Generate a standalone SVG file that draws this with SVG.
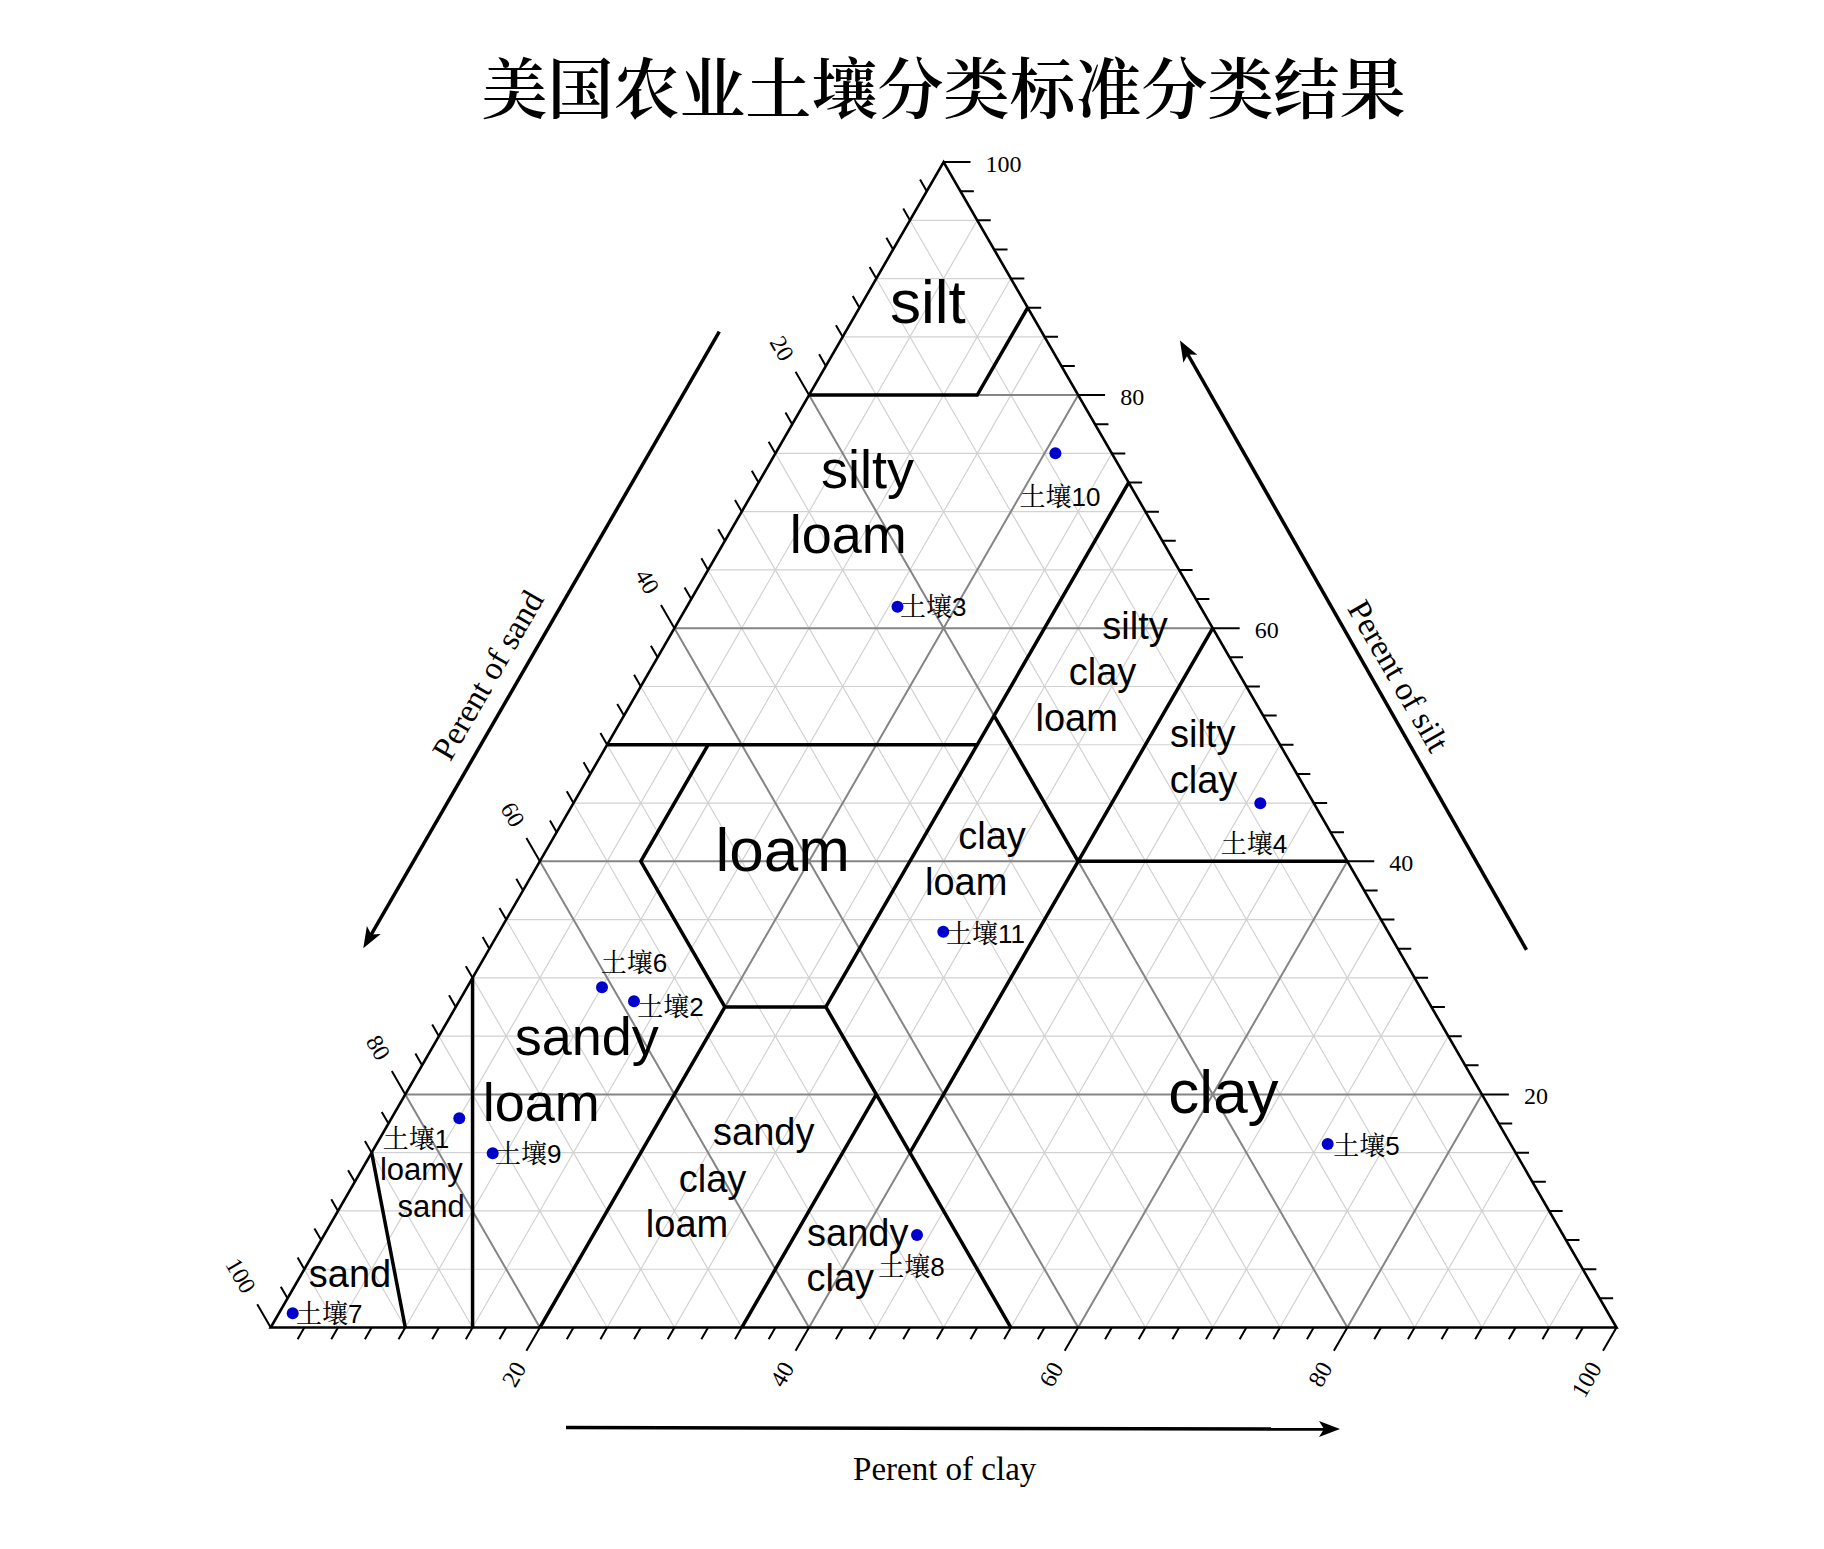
<svg xmlns="http://www.w3.org/2000/svg" width="1824" height="1549" viewBox="0 0 1824 1549">
<defs>
<style>
.gl{fill:none;stroke:#d2d2d2;stroke-width:1.2;vector-effect:non-scaling-stroke}
.gd{fill:none;stroke:#858585;stroke-width:2;vector-effect:non-scaling-stroke}
.bd{fill:none;stroke:#000;stroke-width:3.5;stroke-linejoin:miter;vector-effect:non-scaling-stroke}
.fr{fill:none;stroke:#000;stroke-width:2.6;stroke-linejoin:miter;vector-effect:non-scaling-stroke}
.tk{fill:none;stroke:#000;stroke-width:2;vector-effect:non-scaling-stroke}
.cls{font-family:"Liberation Sans",Arial,sans-serif;text-anchor:middle;fill:#000}
.ax{font-family:"Liberation Serif","Times New Roman",serif;font-size:24px;fill:#000}
.at{font-family:"Liberation Serif","Times New Roman",serif;font-size:33px;fill:#000;text-anchor:middle}
.pt{fill:#0000CD}
.pl{font-family:"Liberation Sans","Noto Serif CJK SC","Noto Sans CJK SC",sans-serif;font-size:26px;fill:#000}
.arr{fill:none;stroke:#000;stroke-width:3.5}
.title{font-family:"Noto Serif CJK SC","Noto Sans CJK SC",serif;font-size:66px;font-weight:600;fill:#000;text-anchor:middle}
</style>
<marker id="ah" markerUnits="userSpaceOnUse" markerWidth="30" markerHeight="30" viewBox="-15 -15 30 30" refX="0" refY="0" orient="auto">
<path d="M12,0 L-9,-8 L-4,0 L-9,8 Z" fill="#000"/>
</marker>
</defs>
<rect width="1824" height="1549" fill="#fff"/>

<text id="title" class="title" x="943.6" y="113">美国农业土壤分类标准分类结果</text>

<g id="triangle" transform="matrix(13.458 0 6.729 -11.655 270.7 1327.5)">
<path id="grid-light" class="gl" d="M0,5L95,5M5,0L5,95M95,0L0,95 M0,10L90,10M10,0L10,90M90,0L0,90 M0,15L85,15M15,0L15,85M85,0L0,85 M0,25L75,25M25,0L25,75M75,0L0,75 M0,30L70,30M30,0L30,70M70,0L0,70 M0,35L65,35M35,0L35,65M65,0L0,65 M0,45L55,45M45,0L45,55M55,0L0,55 M0,50L50,50M50,0L50,50M50,0L0,50 M0,55L45,55M55,0L55,45M45,0L0,45 M0,65L35,65M65,0L65,35M35,0L0,35 M0,70L30,70M70,0L70,30M30,0L0,30 M0,75L25,75M75,0L75,25M25,0L0,25 M0,85L15,85M85,0L85,15M15,0L0,15 M0,90L10,90M90,0L90,10M10,0L0,10 M0,95L5,95M95,0L95,5M5,0L0,5"/>
<path id="grid-dark" class="gd" d="M0,20L80,20M20,0L20,80M80,0L0,80 M0,40L60,40M40,0L40,60M60,0L0,60 M0,60L40,60M60,0L60,40M40,0L0,40 M0,80L20,80M80,0L80,20M20,0L0,20"/>
<g id="connectors">
<path class="bd" d="M0,80L12.5,80L12.5,87.5 M0,50L27.5,50 M27.5,72.5L27.5,27.5 M7.5,50L7.5,40L20,27.5L27.5,27.5 M20,0L20,27.5 M27.5,27.5L55,0 M35,0L35,20 M27.5,52.5L40,40 M40,60L40,15 M40,40L60,40 M0,30L15,0 M0,15L10,0"/>
</g>
<path id="frame" class="fr" d="M0,0L100,0L0,100Z"/>
<path id="ticks-silt" class="tk" d="M97.5,2.5h1M95,5h1M92.5,7.5h1M90,10h1M87.5,12.5h1M85,15h1M82.5,17.5h1M80,20h2M77.5,22.5h1M75,25h1M72.5,27.5h1M70,30h1M67.5,32.5h1M65,35h1M62.5,37.5h1M60,40h2M57.5,42.5h1M55,45h1M52.5,47.5h1M50,50h1M47.5,52.5h1M45,55h1M42.5,57.5h1M40,60h2M37.5,62.5h1M35,65h1M32.5,67.5h1M30,70h1M27.5,72.5h1M25,75h1M22.5,77.5h1M20,80h2M17.5,82.5h1M15,85h1M12.5,87.5h1M10,90h1M7.5,92.5h1M5,95h1M2.5,97.5h1M0,100h2"/>
<path id="ticks-clay" class="tk" d="M2.5,0v-1M5,0v-1M7.5,0v-1M10,0v-1M12.5,0v-1M15,0v-1M17.5,0v-1M20,0v-2M22.5,0v-1M25,0v-1M27.5,0v-1M30,0v-1M32.5,0v-1M35,0v-1M37.5,0v-1M40,0v-2M42.5,0v-1M45,0v-1M47.5,0v-1M50,0v-1M52.5,0v-1M55,0v-1M57.5,0v-1M60,0v-2M62.5,0v-1M65,0v-1M67.5,0v-1M70,0v-1M72.5,0v-1M75,0v-1M77.5,0v-1M80,0v-2M82.5,0v-1M85,0v-1M87.5,0v-1M90,0v-1M92.5,0v-1M95,0v-1M97.5,0v-1M100,0v-2"/>
<path id="ticks-sand" class="tk" d="M0,97.5l-1,1M0,95l-1,1M0,92.5l-1,1M0,90l-1,1M0,87.5l-1,1M0,85l-1,1M0,82.5l-1,1M0,80l-2,2M0,77.5l-1,1M0,75l-1,1M0,72.5l-1,1M0,70l-1,1M0,67.5l-1,1M0,65l-1,1M0,62.5l-1,1M0,60l-2,2M0,57.5l-1,1M0,55l-1,1M0,52.5l-1,1M0,50l-1,1M0,47.5l-1,1M0,45l-1,1M0,42.5l-1,1M0,40l-2,2M0,37.5l-1,1M0,35l-1,1M0,32.5l-1,1M0,30l-1,1M0,27.5l-1,1M0,25l-1,1M0,22.5l-1,1M0,20l-2,2M0,17.5l-1,1M0,15l-1,1M0,12.5l-1,1M0,10l-1,1M0,7.5l-1,1M0,5l-1,1M0,2.5l-1,1M0,0l-2,2"/>
</g>

<g id="labels-silt" class="ax">
<text x="985.6" y="171.6">100</text>
<text x="1120.2" y="404.7">80</text>
<text x="1254.8" y="637.8">60</text>
<text x="1389.3" y="870.9">40</text>
<text x="1523.9" y="1104">20</text>
</g>
<g id="labels-sand" class="ax" text-anchor="end">
<text x="788" y="358.7" dy="0.34em" transform="rotate(60 788 358.7)">20</text>
<text x="653.4" y="591.8" dy="0.34em" transform="rotate(60 653.4 591.8)">40</text>
<text x="518.9" y="824.9" dy="0.34em" transform="rotate(60 518.9 824.9)">60</text>
<text x="384.3" y="1058" dy="0.34em" transform="rotate(60 384.3 1058)">80</text>
<text x="249.7" y="1291.1" dy="0.34em" transform="rotate(60 249.7 1291.1)">100</text>
</g>
<g id="labels-clay" class="ax" text-anchor="end">
<text x="519.9" y="1363.9" dy="0.34em" transform="rotate(-60 519.9 1363.9)">20</text>
<text x="788" y="1363.9" dy="0.34em" transform="rotate(-60 788 1363.9)">40</text>
<text x="1057.2" y="1363.9" dy="0.34em" transform="rotate(-60 1057.2 1363.9)">60</text>
<text x="1326.3" y="1363.9" dy="0.34em" transform="rotate(-60 1326.3 1363.9)">80</text>
<text x="1595.5" y="1363.9" dy="0.34em" transform="rotate(-60 1595.5 1363.9)">100</text>
</g>

<g id="axis-sand">
<line class="arr" x1="719.3" y1="331.7" x2="369.3" y2="937.9" marker-end="url(#ah)"/>
<text class="at" x="497.5" y="680.7" transform="rotate(-60 497.5 680.7)">Perent of sand</text>
</g>
<g id="axis-silt">
<line class="arr" x1="1526.5" y1="949.9" x2="1185.9" y2="351" marker-end="url(#ah)"/>
<text class="at" x="1389" y="681.5" transform="rotate(60 1389 681.5)">Perent of silt</text>
</g>
<g id="axis-clay">
<line class="arr" x1="566" y1="1427.5" x2="1328" y2="1429" marker-end="url(#ah)"/>
<text class="at" x="944.7" y="1480">Perent of clay</text>
</g>

<g id="class-silt" class="cls" font-size="62"><text x="927.8" y="323.3">silt</text></g>
<g id="class-silty-loam" class="cls" font-size="54"><text x="867.4" y="488.3">silty</text><text x="848.2" y="553.3">loam</text></g>
<g id="class-silty-clay-loam" class="cls" font-size="38"><text x="1135" y="639.3">silty</text><text x="1102.5" y="685">clay</text><text x="1076.7" y="731">loam</text></g>
<g id="class-silty-clay" class="cls" font-size="38"><text x="1202.7" y="747.3">silty</text><text x="1203.5" y="793.3">clay</text></g>
<g id="class-loam" class="cls" font-size="62"><text x="782.7" y="870.7">loam</text></g>
<g id="class-clay-loam" class="cls" font-size="38"><text x="992.1" y="849">clay</text><text x="966.2" y="895">loam</text></g>
<g id="class-sandy-loam" class="cls" font-size="54"><text x="586.7" y="1055">sandy</text><text x="541.2" y="1120.5">loam</text></g>
<g id="class-sandy-clay-loam" class="cls" font-size="38"><text x="763.8" y="1145">sandy</text><text x="712.5" y="1191.7">clay</text><text x="687" y="1237.3">loam</text></g>
<g id="class-sandy-clay" class="cls" font-size="38"><text x="857.8" y="1245.7">sandy</text><text x="840.3" y="1290.7">clay</text></g>
<g id="class-clay" class="cls" font-size="62"><text x="1223.5" y="1112.7">clay</text></g>
<g id="class-loamy-sand" class="cls" font-size="31"><text x="421.3" y="1180">loamy</text><text x="431.2" y="1216.7">sand</text></g>
<g id="class-sand" class="cls" font-size="38"><text x="350" y="1286.7">sand</text></g>

<g id="soil1"><circle class="pt" cx="459.3" cy="1118.3" r="6"/><text class="pl" x="382.7" y="1148.3">土壤1</text></g>
<g id="soil2"><circle class="pt" cx="634" cy="1001.3" r="6"/><text class="pl" x="637.3" y="1016">土壤2</text></g>
<g id="soil3"><circle class="pt" cx="897.5" cy="606.7" r="6"/><text class="pl" x="900" y="616">土壤3</text></g>
<g id="soil4"><circle class="pt" cx="1260.3" cy="803.3" r="6"/><text class="pl" x="1220.7" y="852.7">土壤4</text></g>
<g id="soil5"><circle class="pt" cx="1327.7" cy="1144" r="6"/><text class="pl" x="1333.3" y="1155">土壤5</text></g>
<g id="soil6"><circle class="pt" cx="602" cy="987.3" r="6"/><text class="pl" x="600.7" y="971.7">土壤6</text></g>
<g id="soil7"><circle class="pt" cx="292.7" cy="1313.3" r="6"/><text class="pl" x="296" y="1323.3">土壤7</text></g>
<g id="soil8"><circle class="pt" cx="917" cy="1235" r="6"/><text class="pl" x="878.3" y="1275.7">土壤8</text></g>
<g id="soil9"><circle class="pt" cx="492.7" cy="1153.3" r="6"/><text class="pl" x="495" y="1163.3">土壤9</text></g>
<g id="soil10"><circle class="pt" cx="1055.4" cy="453.3" r="6"/><text class="pl" x="1019.6" y="506">土壤10</text></g>
<g id="soil11"><circle class="pt" cx="943.3" cy="931.7" r="6"/><text class="pl" x="946" y="942.7">土壤11</text></g>
</svg>
